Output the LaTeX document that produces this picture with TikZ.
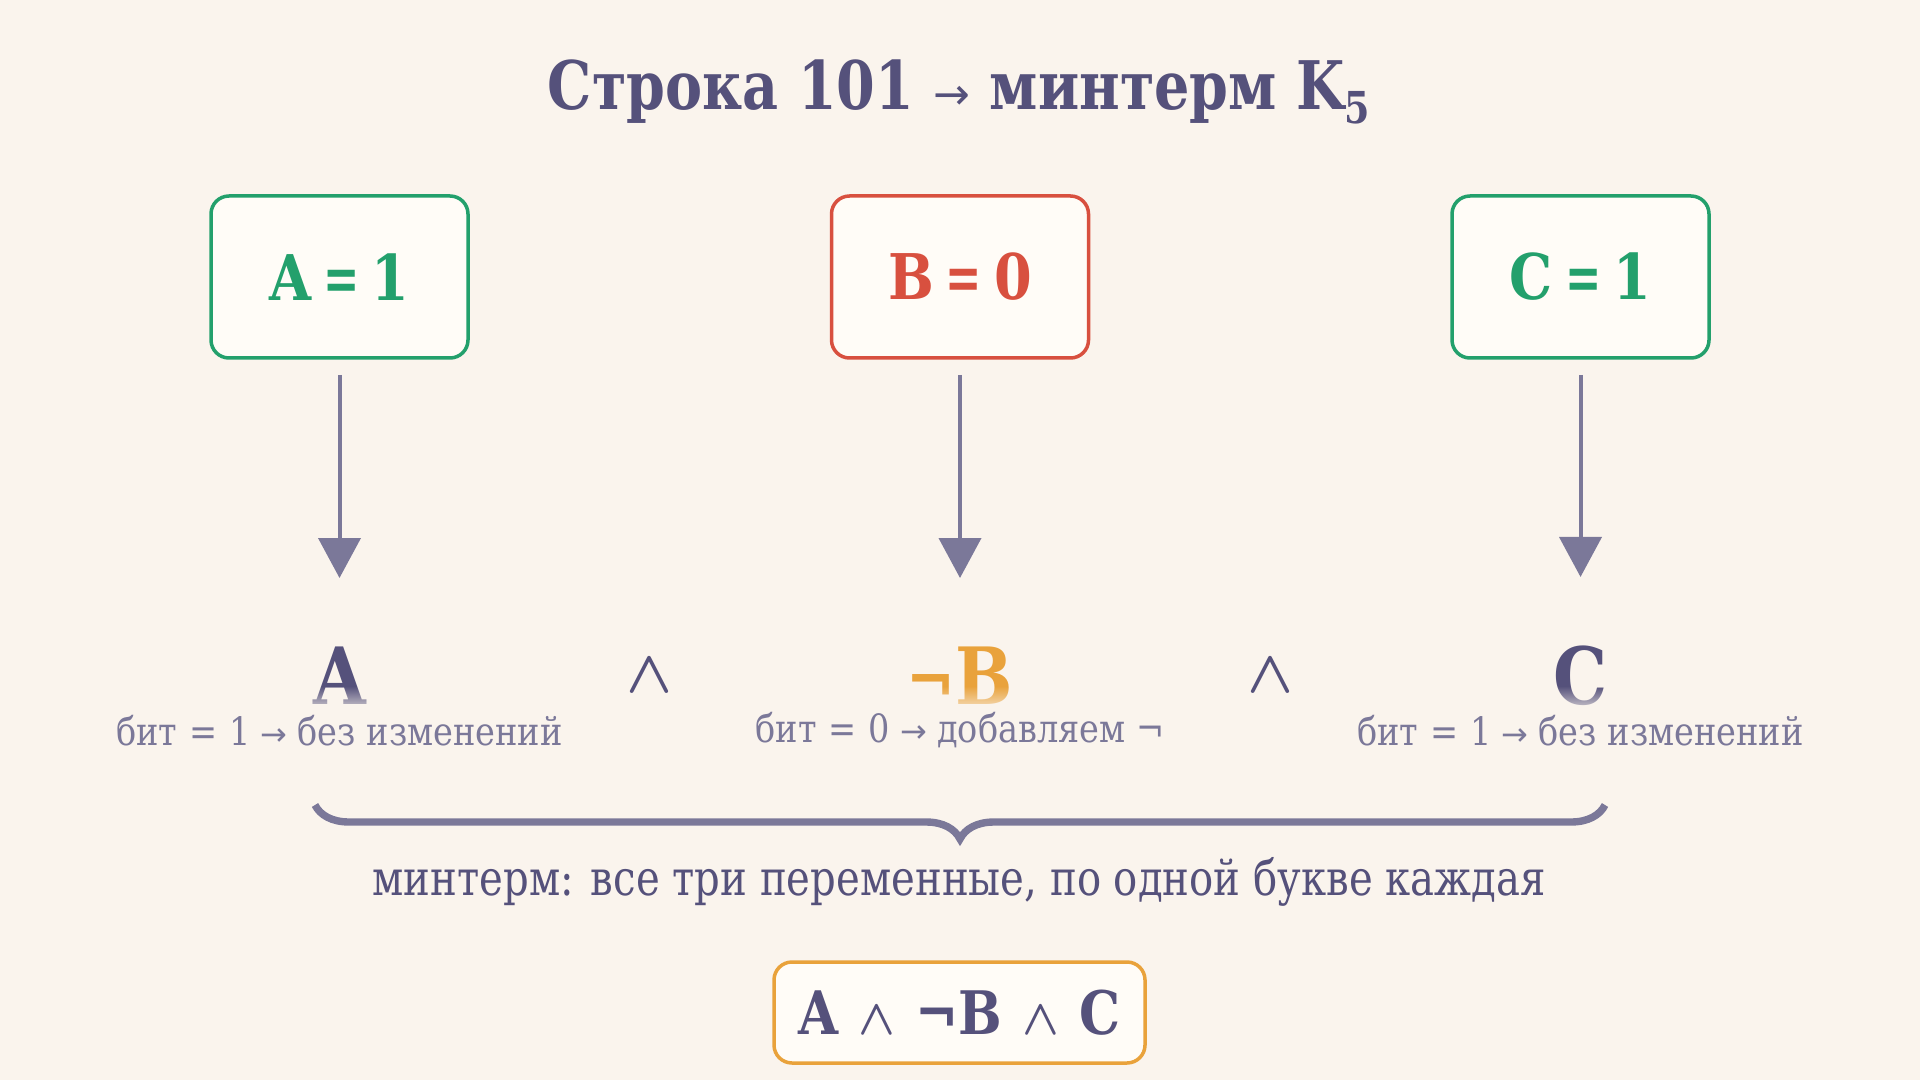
\RequirePackage{fix-cm}
\documentclass[tikz,border=0pt]{standalone}
\usepackage{fontspec}
\setmainfont{DejaVu Serif}[FakeStretch=0.86]
\newfontfamily\titlef{DejaVu Serif}[FakeStretch=0.83]
\newfontfamily\condf{DejaVu Serif}[FakeStretch=0.82]
\newfontfamily\symf{DejaVu Sans}
\usetikzlibrary{decorations.pathreplacing,fadings,arrows.meta}
\definecolor{bgc}{HTML}{FAF4ED}
\definecolor{boxfill}{HTML}{FFFCF7}
\definecolor{ink}{HTML}{55517B}
\definecolor{arrc}{HTML}{7B7899}
\definecolor{grn}{HTML}{23A06C}
\definecolor{redc}{HTML}{D8503F}
\definecolor{org}{HTML}{E9A23B}
\tikzfading[name=lfade, top color=transparent!100, bottom color=transparent!30]
\newcommand{\eqs}{\hspace{6pt}\scalebox{0.8}[1]{=}\hspace{6pt}}
\newcommand{\arrs}{{\symf\fontsize{16pt}{20pt}\selectfont →}}
\newcommand{\thinand}[2]{\scalebox{#1}[#2]{\fontsize{10pt}{12pt}\selectfont\boldmath$\wedge$}}
\tikzset{
  vbox/.style={draw, line width=1.75pt, rounded corners=9pt, fill=boxfill,
    minimum width=128.5pt, minimum height=81pt, inner sep=0pt,
    font=\fontsize{31.5pt}{36pt}\selectfont\bfseries},
  arr/.style={draw=arrc, line width=2pt, -{Triangle[width=21pt,length=20pt]},
    shorten <=7.5pt, shorten >=34pt},
  big/.style={inner sep=0pt, anchor=base, text=ink,
    font=\fontsize{39.5pt}{44pt}\selectfont\bfseries},
  andop/.style={inner sep=0pt, anchor=base, text=ink},
  sublbl/.style={inner sep=0pt, anchor=base, text=arrc,
    font=\fontsize{19.5pt}{23pt}\selectfont},
  fadeband/.style={fill=bgc, path fading=lfade},
  bracest/.style={draw=arrc, line width=3.7pt,
    decorate, decoration={brace, mirror, amplitude=17pt}},
}
\begin{document}
\begin{tikzpicture}[x=0.5pt, y=-0.5pt]
\fill[bgc] (0,0) rectangle (1920,1080);
\useasboundingbox (0,0) rectangle (1920,1080);

% title
\node[inner sep=0pt, text=ink, font=\fontsize{33.5pt}{40pt}\titlef\bfseries]
  (title) at (959,92) {Строка 101 {\symf\mdseries\fontsize{22pt}{26pt}\selectfont →} минтерм K\raisebox{-0.22em}{\fontsize{22pt}{26pt}\selectfont 5}};

% value boxes
\node[vbox, draw=grn, text=grn] (ba) at (339.5,277) {A\eqs 1};
\node[vbox, draw=redc, text=redc] (bb) at (960,277) {B\eqs 0};
\node[vbox, draw=grn, text=grn] (bc) at (1580.5,277) {C\eqs 1};

% literals
\node[big] (la) at (339.5,704) {A};
\node[big, text=org] (lb) at (960,704) {{\fontsize{34pt}{40pt}\selectfont ¬}B};
\node[big] (lc) at (1580.5,704) {C};
\node[andop] (and1) at (649,692) {\thinand{3.0}{3.0}};
\node[andop] (and2) at (1270,692) {\thinand{3.0}{3.0}};

% fade on the lower part of the literals
\fill[fadeband] (300,686) rectangle (380,708);
\fill[fadeband] (900,686) rectangle (1020,708);
\fill[fadeband] (1540,686) rectangle (1620,708);

% arrows
\draw[arr] (ba.south) -- (la.north);
\draw[arr] (bb.south) -- (lb.north);
\draw[arr] (bc.south) -- (lc.north);

% sub labels
\node[sublbl] (sa) at (339.5,745) {бит\hspace{6pt}=\hspace{6pt}1\hspace{5pt}\arrs\hspace{5pt}без изменений};
\node[sublbl] (sb) at (960,742) {бит\hspace{6pt}=\hspace{6pt}0\hspace{5pt}\arrs\hspace{5pt}добавляем ¬};
\node[sublbl] (sc) at (1580.5,745) {бит\hspace{6pt}=\hspace{6pt}1\hspace{5pt}\arrs\hspace{5pt}без изменений};

% brace
\coordinate (brl) at (315,805);
\coordinate (brr) at (1605,805);
\draw[bracest] (brl) -- (brr);

\node[inner sep=0pt, anchor=base, text=ink, font=\fontsize{24.5pt}{30pt}\condf]
  (mt) at (959,895) {минтерм: все три переменные, по одной букве каждая};

% result box
\node[draw=org, line width=1.75pt, rounded corners=9pt, fill=boxfill,
  minimum width=185.5pt, minimum height=50.5pt, inner sep=0pt, text=ink,
  font=\fontsize{30pt}{32pt}\selectfont\bfseries]
  (res) at (959.5,1012.5) {A\hspace{10pt}\thinand{2.4}{2.5}\hspace{10pt}¬B\hspace{10pt}\thinand{2.4}{2.5}\hspace{10pt}C};
\end{tikzpicture}
\end{document}
